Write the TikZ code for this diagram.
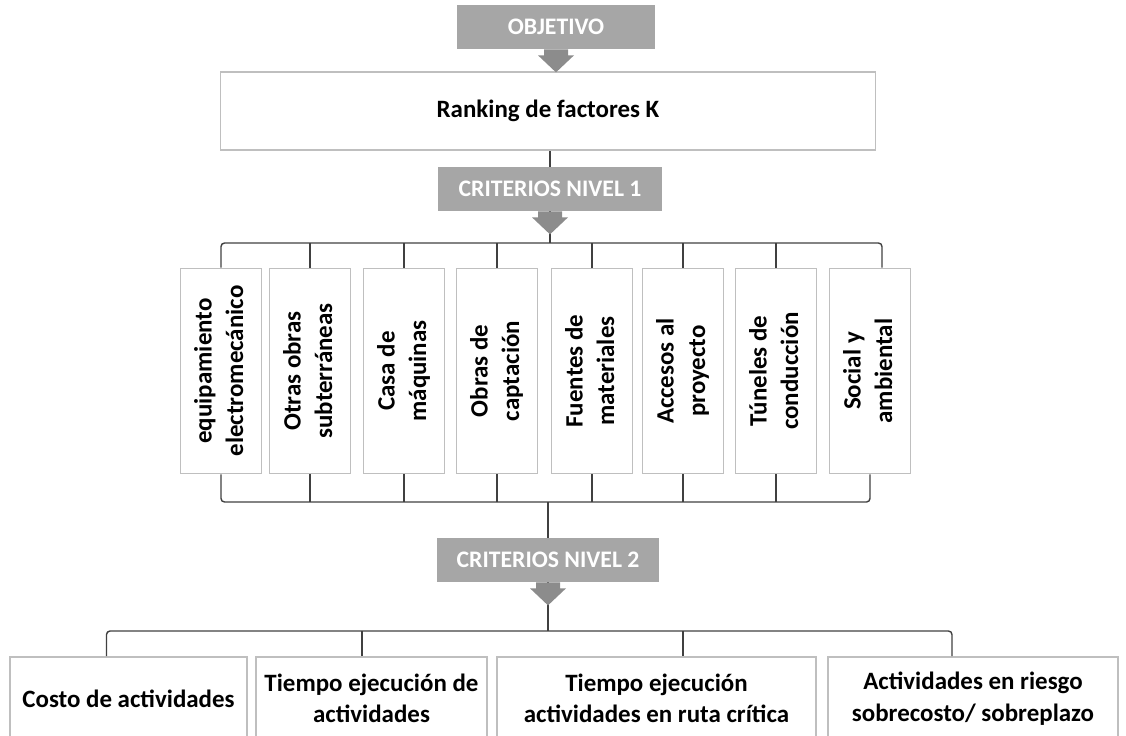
\documentclass[tikz,border=0pt]{standalone}
\usepackage{fontspec}
\setmainfont{Carlito}
\usetikzlibrary{calc}

\definecolor{boxline}{HTML}{BFBFBF}
\definecolor{tagfill}{HTML}{A6A6A6}
\definecolor{tagdark}{HTML}{8C8C8C}
\definecolor{linkgrey}{HTML}{404040}

\newcommand{\tagfont}{\bfseries\fontsize{13.5}{15}\selectfont}
\newcommand{\boxfont}{\bfseries\fontsize{14.2}{18}\selectfont}
\newcommand{\vtext}[2]{\rotatebox{90}{\begin{tabular}{@{}c@{}}#1\\#2\end{tabular}}}
\newcommand{\tagarrow}[1]{%
  \fill[tagdark] ($(#1.south)+(-12,0)$) -- ++(0,6) -- ++(-6,0)
    -- ($(#1.south)+(0,23)$) -- ($(#1.south)+(18,6)$) -- ++(-6,0) -- ++(0,-6) -- cycle;}

\begin{document}
\begin{tikzpicture}[x=0.02cm, y=-0.02cm,
    tag/.style={fill=tagfill, text=white, font=\tagfont, inner sep=0pt, minimum height=0.88cm},
    box/.style={draw=boxline, line width=1pt, fill=white, font=\boxfont, align=center, inner sep=0pt},
    link/.style={draw=linkgrey, line width=0.8pt, rounded corners=2pt}]

  \useasboundingbox (0,0) rectangle (1126,735);

  % objective
  \node[tag, minimum width=3.96cm] (obj) at (556,27) {OBJETIVO};
  \node[box, minimum width=13.1cm, minimum height=1.56cm] (rank) at (548,111) {Ranking de factores K};
  \node[tag, minimum width=4.48cm] (crit1) at (550,189) {CRITERIOS NIVEL 1};

  % level 1
  \begin{scope}[every node/.style={box, minimum width=1.62cm, minimum height=4.1cm}]
    \node (f1) at (221,371) {\vtext{equipamiento}{electromecánico}};
    \node (f2) at (310,371) {\vtext{Otras obras}{subterráneas}};
    \node (f3) at (404,371) {\vtext{Casa de}{máquinas}};
    \node (f4) at (497,371) {\vtext{Obras de}{captación}};
    \node (f5) at (592,371) {\vtext{Fuentes de}{materiales}};
    \node (f6) at (683,371) {\vtext{Accesos al}{proyecto}};
    \node (f7) at (776,371) {\vtext{Túneles de}{conducción}};
    \node (f8) at (870,371) {\vtext{Social y}{ambiental}};
  \end{scope}

  \node[tag, minimum width=4.44cm] (crit2) at (548,560) {CRITERIOS NIVEL 2};

  % level 2
  \begin{scope}[every node/.style={box, minimum height=1.66cm}]
    \node[minimum width=4.74cm] (a1) at (128.5,698.5) {Costo de actividades};
    \node[minimum width=4.62cm] (a2) at (371.5,698.5) {Tiempo ejecución de\\actividades};
    \node[minimum width=6.38cm] (a3) at (656.5,698.5) {Tiempo ejecución\\actividades en ruta crítica};
    \node[minimum width=5.8cm]  (a4) at (973,698.5)   {Actividades en riesgo\\sobrecosto/ sobreplazo};
  \end{scope}

  \coordinate (bus1) at (550,243);
  \coordinate (bus1b) at (548,502);
  \coordinate (bus2) at (548,631);

  % connectors
  \draw[link] (crit1.north |- rank.south) -- (crit1.north);
  \draw[link] (crit1.south) -- (bus1);
  \draw[link] (f1.north) |- (bus1) -| ([xshift=0.24cm]f8.north);
  \foreach \i in {2,...,7}
    \draw[link] (f\i.north) -- (f\i.north |- bus1);
  \draw[link] (f1.south) |- (bus1b) -| (f8.south);
  \foreach \i in {2,...,7}
    \draw[link] (f\i.south) -- (f\i.south |- bus1b);
  \draw[link] (bus1b) -- (crit2.north);
  \draw[link] (crit2.south) -- (bus2);
  \draw[link] ([xshift=-0.44cm]a1.north) |- (bus2) -| ([xshift=-0.42cm]a4.north);
  \draw[link] ([xshift=-0.19cm]a2.north) -- ([xshift=-0.19cm]a2.north |- bus2);
  \draw[link] ([xshift=0.53cm]a3.north) -- ([xshift=0.53cm]a3.north |- bus2);

  \tagarrow{obj}
  \tagarrow{crit1}
  \tagarrow{crit2}

\end{tikzpicture}
\end{document}
